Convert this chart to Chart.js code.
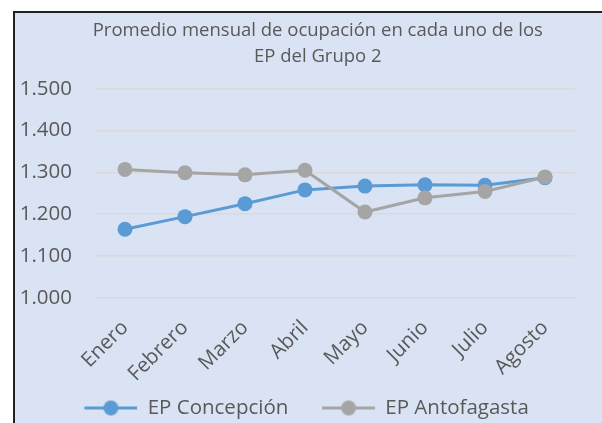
<!DOCTYPE html>
<html lang="es">
<head>
<meta charset="utf-8">
<script src="https://cdn.jsdelivr.net/npm/chart.js@4.4.1/dist/chart.umd.min.js"></script>
<style>
  html, body { margin: 0; padding: 0; background: #fff; overflow: hidden; }
  #marco { position: absolute; left: 13px; top: 11px; width: 620px; height: 440px;
           background: #dae3f3; border-left: 2px solid #222; border-top: 2px solid #222; }
  #grafico { position: absolute; left: 0; top: 0; }
</style>
</head>
<body>
<div id="marco"></div>
<canvas id="grafico" width="602" height="430"></canvas>
<script>
// Datos
var meses = ['Enero', 'Febrero', 'Marzo', 'Abril', 'Mayo', 'Junio', 'Julio', 'Agosto'];
var concepcion = [1164, 1194, 1225, 1258, 1267, 1270, 1269, 1287];
var antofagasta = [1307, 1299, 1294, 1305, 1205, 1239, 1254, 1289];
var titulo = ['Promedio mensual de ocupación en cada uno de los', 'EP del Grupo 2'];

var azul = '#5b9bd5';
var gris = '#a5a5a5';
var texto = '#595959';

// Marca de leyenda: línea con círculo al centro (con margen transparente a la izquierda)
function marcaLeyenda(color) {
    var c = document.createElement('canvas');
    c.width = 80;
    c.height = 17;
    var g = c.getContext('2d');
    g.strokeStyle = color;
    g.lineWidth = 3;
    g.beginPath();
    g.moveTo(27, 8.5);
    g.lineTo(80, 8.5);
    g.stroke();
    g.fillStyle = color;
    g.beginPath();
    g.arc(53.5, 8.5, 7.5, 0, Math.PI * 2);
    g.fill();
    return c;
}
var marcas = [marcaLeyenda(azul), marcaLeyenda(gris)];

// Formato de miles con punto
function miles(v) {
    return String(v).replace(/\B(?=(\d{3})+(?!\d))/g, '.');
}

// el título va corrido a la derecha respecto de la leyenda
var sangria = '\u2003\u2003\u2002\u2009';

var ctx = document.getElementById('grafico').getContext('2d');
var grafico = new Chart(ctx, {
    type: 'line',
    data: {
        labels: meses,
        datasets: [{
            label: 'EP Concepción',
            data: concepcion,
            borderColor: azul,
            backgroundColor: azul,
            borderWidth: 3,
            pointRadius: 7.5,
            pointBorderWidth: 0,
            pointHoverRadius: 7.5,
            order: 1
        }, {
            label: 'EP Antofagasta',
            data: antofagasta,
            borderColor: gris,
            backgroundColor: gris,
            borderWidth: 3,
            pointRadius: 7.5,
            pointBorderWidth: 0,
            pointHoverRadius: 7.5,
            order: 0
        }]
    },
    options: {
        responsive: false,
        animation: false,
        layout: { padding: { left: 11.25, right: 27, top: 0, bottom: 1.75 } },
        plugins: {
            title: {
                display: true,
                text: titulo.map(function(t) { return sangria + t; }),
                color: texto,
                font: { family: 'Open Sans', size: 18.5, weight: 'normal', lineHeight: '26px' },
                padding: { top: 17.5, bottom: 19.2 }
            },
            legend: {
                position: 'bottom',
                align: 'center',
                labels: {
                    usePointStyle: true,
                    pointStyleWidth: 80,
                    padding: 6.75,
                    color: texto,
                    font: { family: 'Open Sans', size: 20.5 },
                    sort: function(a, b) { return a.datasetIndex - b.datasetIndex; },
                    generateLabels: function(chart) {
                        var items = Chart.defaults.plugins.legend.labels.generateLabels(chart);
                        items.forEach(function(it) { it.pointStyle = marcas[it.datasetIndex]; });
                        return items;
                    }
                }
            },
            tooltip: { enabled: false }
        },
        scales: {
            x: {
                offset: true,
                grid: { display: false },
                border: { display: false },
                ticks: {
                    color: texto,
                    font: { family: 'Open Sans', size: 20.5 },
                    minRotation: 45,
                    maxRotation: 45,
                    autoSkip: false,
                    padding: 10
                },
                afterFit: function(scale) { scale.height = 93.25; }
            },
            y: {
                min: 1000,
                max: 1500,
                grid: { color: '#d9d9d9', lineWidth: 1.5, drawTicks: false },
                border: { display: false },
                ticks: {
                    stepSize: 100,
                    color: texto,
                    font: { family: 'Open Sans', size: 20.5 },
                    padding: 23,
                    callback: function(v) { return miles(v); }
                },
                afterFit: function(scale) { scale.width = 83.75; }
            }
        }
    }
});
</script>
</body>
</html>
